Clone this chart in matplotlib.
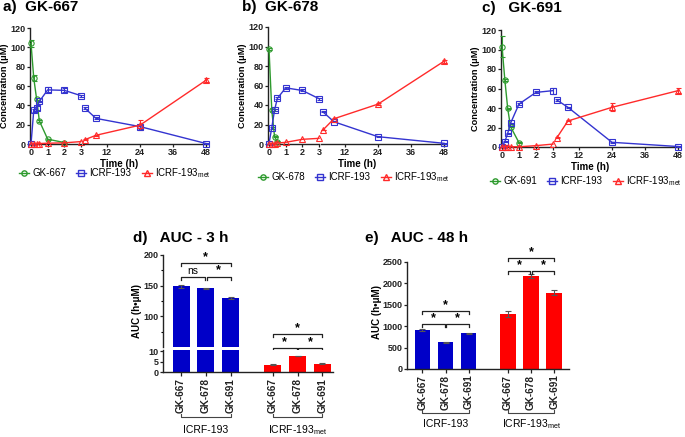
import matplotlib
matplotlib.use("Agg")
import matplotlib.pyplot as plt
from matplotlib.lines import Line2D
from matplotlib import transforms

plt.rcParams["font.family"] = ["Liberation Sans", "DejaVu Sans"]
plt.rcParams["mathtext.fontset"] = "custom"
plt.rcParams["mathtext.rm"] = "Liberation Sans"

W, H = 685, 437

# ============================================================
# DATA
# ============================================================

t_early = [0, 0.167, 0.333, 0.5, 1, 2, 3]
t_late = [4, 8, 24, 48]

# a) GK-667
a_gk = [104, 68, 47, 24, 5, 1.5]
a_gk_err = [4, 3, 1, 1, 0.5, 0.3]
a_icrf_early = [0, 35, 37, 44, 56, 55.5, 50]
a_icrf_early_err = [0, 1.5, 2, 1, 2.5, 2, 1]
a_icrf_late = [37, 26.5, 18, 0.5]
a_icrf_late_err = [1, 1, 2, 0.3]
a_met_early = [0, 0, 0.3, 0.5, 0.8, 1.2, 2.5]
a_met_late = [4.5, 9, 19.5, 66]
a_met_late_err = [0.5, 0.5, 5, 2]

# b) GK-678
b_gk = [97.5, 34.5, 7.5, 2.4]
b_gk_err = [1, 1, 0.5, 0.3]
b_icrf_early = [0.5, 16.7, 34.8, 46.7, 57.6, 54.9, 46.5]
b_icrf_early_err = [0, 1, 1, 1, 1, 1, 1]
b_icrf_late = [33, 22.8, 7.5, 0.7]
b_icrf_late_err = [0.5, 0.5, 0.5, 0.3]
b_met_early = [0, 0, 0.5, 1, 1.7, 4.8, 5.8]
b_met_late = [14.3, 25.9, 40.9, 84.9]
b_met_late_err = [0.3, 0.5, 1, 1.5]

# c) GK-691
c_gk = [103, 68.7, 39.7, 20.9, 4.4]
c_gk_err = [11, 1, 0.5, 0.5, 0.5]
c_icrf_early = [0.3, 5.5, 14, 24.3, 44.1, 56, 57.8]
c_icrf_early_err = [0, 0.5, 0.5, 0.5, 1, 1, 3]
c_icrf_late = [48.2, 40.7, 4.8, 0.5]
c_icrf_late_err = [1, 0.5, 0.5, 0.3]
c_met_early = [0, 0.2, 0.3, 0.3, 0.2, 1.4, 3]
c_met_late = [9.6, 26.7, 40.7, 57.8]
c_met_late_err = [0.3, 0.5, 4, 2.5]

# d) AUC 0-3 h and e) AUC 0-48 h
compounds = ["GK-667", "GK-678", "GK-691"]
d_icrf = [149, 145.5, 130]
d_icrf_err = [2.5, 1, 1.5]
d_met = [3.5, 7.7, 4.0]
d_met_err = [0.3, 0.2, 0.3]
e_icrf = [911, 624, 834]
e_icrf_err = [15, 5, 15]
e_met = [1285, 2173, 1783]
e_met_err = [70, 40, 60]

GREEN = "#2e9a2e"
BLUE = "#3434d0"
RED = "#ff2a2a"
BAR_BLUE = "#0000c8"
BAR_RED = "#ff0000"
MET = r"ICRF-193$_{\mathregular{met}}$"

fig = plt.figure(figsize=(6.85, 4.37), dpi=100)


def px_axes(left, right, top, bottom):
    return fig.add_axes([left / W, 1 - bottom / H, (right - left) / W, (bottom - top) / H])


def style(ax, fs=6.5):
    for s in ["top", "right"]:
        ax.spines[s].set_visible(False)
    for s in ["left", "bottom"]:
        ax.spines[s].set_linewidth(1.0)
        ax.spines[s].set_color("#222222")
    ax.tick_params(direction="out", length=2.2, width=0.9, pad=1.0, labelsize=fs, colors="#222222")
    for lab in ax.get_xticklabels() + ax.get_yticklabels():
        lab.set_fontweight("bold")


def series(ax, t, y, err, color, marker):
    ax.errorbar(t, y, yerr=err, color=color, lw=1.0, marker=marker, ms=3.8,
                mfc="none", mec=color, mew=0.8, capsize=1.8, elinewidth=0.8,
                clip_on=False, zorder=3)


# ============================================================
# TOP ROW — CONCENTRATION VS TIME
# ============================================================

panels = [
    dict(title="a)  GK-667", tx=3, ty=7, x0=30, x1=81, x2=83, x3=208, top=28, bot=144,
         gk=a_gk, gk_err=a_gk_err, ie=a_icrf_early, iee=a_icrf_early_err,
         il=a_icrf_late, ile=a_icrf_late_err, me=a_met_early, ml=a_met_late,
         mle=a_met_late_err, label="GK-667", leg_x=115, leg_y=173, yl_x=5),
    dict(title="b)  GK-678", tx=242, ty=7, x0=268, x1=319, x2=321, x3=446, top=27, bot=144,
         gk=b_gk, gk_err=b_gk_err, ie=b_icrf_early, iee=b_icrf_early_err,
         il=b_icrf_late, ile=b_icrf_late_err, me=b_met_early, ml=b_met_late,
         mle=b_met_late_err, label="GK-678", leg_x=354, leg_y=177, yl_x=243),
    dict(title="c)   GK-691", tx=482, ty=8, x0=501, x1=553, x2=555, x3=680, top=30, bot=147,
         gk=c_gk, gk_err=c_gk_err, ie=c_icrf_early, iee=c_icrf_early_err,
         il=c_icrf_late, ile=c_icrf_late_err, me=c_met_early, ml=c_met_late,
         mle=c_met_late_err, label="GK-691", leg_x=586, leg_y=181, yl_x=475),
]

for p in panels:
    ax1 = px_axes(p["x0"], p["x1"], p["top"], p["bot"])
    ax2 = px_axes(p["x2"], p["x3"], p["top"], p["bot"])
    for ax in (ax1, ax2):
        ax.set_ylim(0, 120)
        ax.patch.set_alpha(0)
    ax1.set_xlim(-0.06, 3.0)
    ax2.set_xlim(3.3, 48.7)
    ax1.set_xticks([0, 1, 2, 3])
    ax2.set_xticks([12, 24, 36, 48])
    ax1.set_yticks(range(0, 121, 20))
    ax2.spines["left"].set_visible(False)
    ax2.set_yticks([])

    series(ax1, t_early[:len(p["gk"])], p["gk"], p["gk_err"], GREEN, "o")
    series(ax1, t_early, p["ie"], p["iee"], BLUE, "s")
    series(ax2, t_late, p["il"], p["ile"], BLUE, "s")
    series(ax1, t_early, p["me"], None, RED, "^")
    series(ax2, t_late, p["ml"], p["mle"], RED, "^")
    style(ax1)
    style(ax2)

    fig.text(p["tx"] / W, 1 - p["ty"] / H, p["title"], fontsize=11, fontweight="bold",
             ha="left", va="center")
    fig.text(p["yl_x"] / W, 1 - (p["top"] + p["bot"]) / 2 / H, "Concentration (μM)",
             rotation=90, fontsize=6.6, fontweight="bold", ha="center", va="center")
    fig.text((p["x0"] + p["x3"]) / 2 / W, 1 - (p["bot"] + 19.5) / H, "Time (h)",
             fontsize=7, fontweight="bold", ha="center", va="center")

    handles = [
        Line2D([], [], color=GREEN, marker="o", ms=3.8, mfc="none", lw=1),
        Line2D([], [], color=BLUE, marker="s", ms=3.8, mfc="none", lw=1),
        Line2D([], [], color=RED, marker="^", ms=3.8, mfc="none", lw=1),
    ]
    fig.legend(handles, [p["label"], "ICRF-193", MET], loc="center",
               bbox_to_anchor=(p["leg_x"] / W, 1 - p["leg_y"] / H), ncol=3,
               frameon=False, fontsize=7, handlelength=1.0, handletextpad=0.35,
               columnspacing=1.1, borderpad=0)


# ============================================================
# BOTTOM ROW — AUC BARS
# ============================================================

pos_icrf = [0, 1, 2]
pos_met = [3.7, 4.7, 5.7]


def bracket(ax, xa, xb, y, leg, text, trans=None, fs=9, weight="bold", dy=0):
    tr = trans if trans is not None else ax.transData
    ax.plot([xa, xa, xb, xb], [y - leg, y, y, y - leg], color="#222222", lw=0.9,
            clip_on=False, transform=tr)
    ax.text((xa + xb) / 2, y + dy, text, ha="center", va="bottom", fontsize=fs,
            fontweight=weight, transform=tr, clip_on=False)


def group_label(ax, xs, y_br, y_txt, text):
    tr = transforms.blended_transform_factory(ax.transData, fig.transFigure)
    yb = 1 - y_br / H
    ax.plot([xs[0], xs[0], xs[-1], xs[-1]], [yb + 3 / H, yb, yb, yb + 3 / H],
            color="#444444", lw=0.8, clip_on=False, transform=tr)
    ax.text((xs[0] + xs[-1]) / 2, 1 - y_txt / H, text, ha="center", va="center",
            fontsize=7.5, transform=tr)


# d) broken y axis
ax_up = px_axes(163, 333, 255, 347)
ax_lo = px_axes(163, 333, 350.4, 372.3)
for ax in (ax_up, ax_lo):
    ax.bar(pos_icrf, d_icrf, width=0.69, color=BAR_BLUE, yerr=d_icrf_err,
           error_kw=dict(ecolor="#555555", capsize=2.5, elinewidth=0.8, capthick=0.8))
    ax.bar(pos_met, d_met, width=0.69, color=BAR_RED, yerr=d_met_err,
           error_kw=dict(ecolor="#555555", capsize=2.5, elinewidth=0.8, capthick=0.8))
    ax.set_xlim(-0.73, 6.13)
ax_up.set_ylim(50, 200)
ax_up.set_yticks([100, 150, 200])
ax_up.set_yticks([75, 125, 175], minor=True)
ax_up.spines["bottom"].set_visible(False)
ax_up.set_xticks([])
ax_lo.set_ylim(0, 10.3)
ax_lo.set_yticks([0, 5, 10])
ax_lo.set_xticks(pos_icrf + pos_met)
ax_lo.set_xticklabels(compounds * 2, rotation=90)
style(ax_up)
style(ax_lo)
ax_up.tick_params(which="minor", length=1.5, width=0.8)
ax_lo.tick_params(axis="x", labelsize=7.2, length=3)

bracket(ax_up, 0, 2, 186.5, 5, "*")
bracket(ax_up, 0, 0.97, 164.7, 5, "ns", fs=7.5, weight="normal", dy=0.5)
bracket(ax_up, 1.03, 2, 164.7, 5, "*")
bracket(ax_up, 3.7, 5.7, 71, 5, "*")
bracket(ax_up, 3.7, 4.67, 48.3, 5, "*")
bracket(ax_up, 4.73, 5.7, 48.3, 5, "*")

group_label(ax_lo, pos_icrf, 416.7, 430, "ICRF-193")
group_label(ax_lo, pos_met, 416.7, 430, MET)

fig.text(133 / W, 1 - 238 / H, "d)   AUC - 3 h", fontsize=11, fontweight="bold",
         ha="left", va="center")
fig.text(137 / W, 1 - 311 / H, "AUC (h•μM)", rotation=90, fontsize=7,
         fontweight="bold", ha="center", va="center")

# e)
ax_e = px_axes(407, 569, 262, 369)
ax_e.bar(pos_icrf, e_icrf, width=0.67, color=BAR_BLUE, yerr=e_icrf_err,
         error_kw=dict(ecolor="#555555", capsize=2.5, elinewidth=0.8, capthick=0.8))
ax_e.bar(pos_met, e_met, width=0.67, color=BAR_RED, yerr=e_met_err,
         error_kw=dict(ecolor="#555555", capsize=2.5, elinewidth=0.8, capthick=0.8))
ax_e.set_xlim(-0.67, 6.34)
ax_e.set_ylim(0, 2500)
ax_e.set_yticks(range(0, 2501, 500))
ax_e.set_xticks(pos_icrf + pos_met)
ax_e.set_xticklabels(compounds * 2, rotation=90)
style(ax_e)
ax_e.tick_params(axis="x", labelsize=7.2, length=3)

bracket(ax_e, 0, 2, 1355, 70, "*")
bracket(ax_e, 0, 0.97, 1051, 70, "*")
bracket(ax_e, 1.03, 2, 1051, 70, "*")
bracket(ax_e, 3.7, 5.7, 2586, 70, "*")
bracket(ax_e, 3.7, 4.67, 2290, 70, "*")
bracket(ax_e, 4.73, 5.7, 2290, 70, "*")

group_label(ax_e, pos_icrf, 413.3, 424, "ICRF-193")
group_label(ax_e, pos_met, 413.3, 424, MET)

fig.text(365 / W, 1 - 238 / H, "e)   AUC - 48 h", fontsize=11, fontweight="bold",
         ha="left", va="center")
fig.text(377 / W, 1 - 312 / H, "AUC (h•μM)", rotation=90, fontsize=7,
         fontweight="bold", ha="center", va="center")

fig.savefig("out.png", dpi=100)
